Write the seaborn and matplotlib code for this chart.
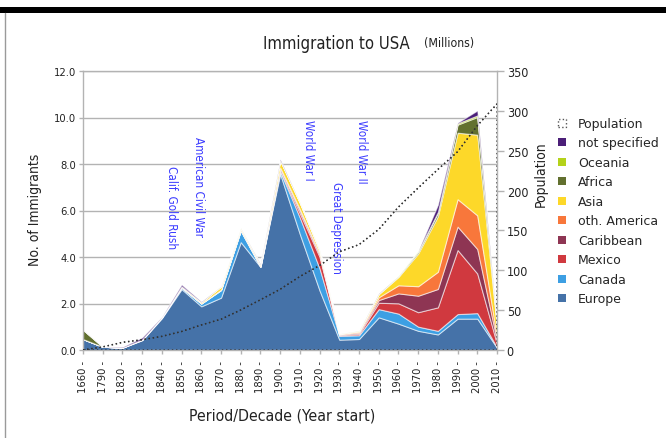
import matplotlib
matplotlib.use('Agg')
import seaborn as sns
from matplotlib import pyplot as plt
from matplotlib.patches import Patch, Rectangle
from matplotlib.lines import Line2D

# period / decade start
decades = ['1660', '1790', '1820', '1830', '1840', '1850', '1860', '1870', '1880', '1890',
           '1900', '1910', '1920', '1930', '1940', '1950', '1960', '1970', '1980', '1990',
           '2000', '2010']

# immigrants, millions
europe = [0.47, 0.14, 0.099, 0.423, 1.369, 2.620, 1.878, 2.252, 4.639, 3.576, 7.573,
          4.985, 2.560, 0.444, 0.473, 1.405, 1.133, 0.826, 0.669, 1.349, 1.350, 0.095]
canada = [0.0, 0.0, 0.002, 0.012, 0.034, 0.064, 0.118, 0.324, 0.493, 0.003, 0.123,
          0.709, 0.949, 0.163, 0.161, 0.353, 0.433, 0.179, 0.156, 0.195, 0.236, 0.019]
mexico = [0.0, 0.0, 0.004, 0.007, 0.003, 0.003, 0.002, 0.005, 0.002, 0.0, 0.031,
          0.185, 0.499, 0.033, 0.056, 0.274, 0.442, 0.621, 1.010, 2.757, 1.704, 0.139]
caribbean = [0.0, 0.0, 0.003, 0.012, 0.012, 0.012, 0.009, 0.014, 0.027, 0.031, 0.101,
             0.121, 0.083, 0.018, 0.046, 0.116, 0.427, 0.709, 0.790, 1.005, 1.053, 0.139]
oth_america = [0.0, 0.0, 0.0005, 0.001, 0.0014, 0.004, 0.0016, 0.0013, 0.0022, 0.002, 0.023,
               0.056, 0.060, 0.017, 0.040, 0.119, 0.349, 0.408, 0.739, 1.181, 1.448, 0.131]
asia = [0.0, 0.0, 0.0, 0.0001, 0.0001, 0.036, 0.054, 0.134, 0.071, 0.061, 0.300,
        0.270, 0.127, 0.019, 0.035, 0.136, 0.359, 1.407, 2.391, 2.860, 3.471, 0.410]
africa = [0.40, 0.0, 0.0, 0.0, 0.0, 0.0, 0.0, 0.0, 0.0, 0.0, 0.006,
          0.009, 0.006, 0.002, 0.007, 0.013, 0.024, 0.071, 0.142, 0.346, 0.760, 0.098]
oceania = [0.0, 0.0, 0.0, 0.0, 0.0, 0.0, 0.0, 0.011, 0.013, 0.004, 0.012,
           0.012, 0.010, 0.003, 0.014, 0.011, 0.024, 0.040, 0.041, 0.057, 0.066, 0.006]
not_specified = [0.0, 0.0, 0.020, 0.084, 0.007, 0.074, 0.018, 0.001, 0.001, 0.014, 0.033,
                 0.0005, 0.001, 0.0, 0.0001, 0.012, 0.0001, 0.0003, 0.305, 0.026, 0.212, 0.004]

# US population, millions (right axis)
population = [0.1, 3.9, 9.6, 12.9, 17.1, 23.2, 31.4, 38.6, 50.2, 63.0, 76.2, 92.2, 106.0,
              123.2, 132.2, 151.3, 179.3, 203.3, 226.5, 248.7, 281.4, 308.7]

series = [europe, canada, mexico, caribbean, oth_america, asia, africa, oceania, not_specified]
names = ['Europe', 'Canada', 'Mexico', 'Caribbean', 'oth. America', 'Asia', 'Africa',
         'Oceania', 'not specified']
colors = ['#4572a8', '#3d9fe3', '#d0393f', '#8e3553', '#f8773b', '#fdd829', '#62702f',
          '#b4d21a', '#4b1f78']

events = ['Calif. Gold Rush', 'American Civil War', 'World War I', 'Great Depression', 'World War II']
event_x = [4.5, 5.85, 11.43, 12.87, 14.14]
event_y = [7.96, 9.19, 9.94, 7.28, 9.94]

sns.set_theme(style='white')
plt.rcParams['font.family'] = ['DejaVu Sans']
plt.rcParams['font.stretch'] = 'condensed'

fig = plt.figure(figsize=(6.66, 4.39), dpi=100)
ax = fig.add_axes([83 / 666, 1 - 351 / 439, 414 / 666, 279 / 439])

x = list(range(len(decades)))
ax.stackplot(x, *series, colors=colors, edgecolor=(1, 1, 1, 0.55), linewidth=0.8, zorder=2)

ax.set_xlim(0, len(decades) - 1)
ax.set_ylim(0, 12)
ax.set_yticks(range(0, 13, 2))
ax.set_yticklabels([f'{v:.1f}' for v in range(0, 13, 2)], fontsize=8)
ax.set_xticks(x)
ax.set_xticklabels([f'{d} -' for d in decades], rotation=90, fontsize=8)
ax.grid(axis='y', color='#b3b3b3', linewidth=1, zorder=0)
ax.set_axisbelow(True)
for s in ax.spines.values():
    s.set_color('#b3b3b3')
    s.set_linewidth(1)
ax.tick_params(axis='both', which='both', length=3, width=1, color='#b3b3b3', pad=2,
               left=True, bottom=True, labelcolor='#222222')
ax.tick_params(axis='x', pad=4)

for label, ex, ey in zip(events, event_x, event_y):
    ax.text(ex, ey, label, rotation=270, ha='center', va='top', fontsize=8.4,
            color='#3b3bff', zorder=5)

ax2 = ax.twinx()
ax2.set_ylim(0, 350)
ax2.set_yticks(range(0, 351, 50))
ax2.set_yticklabels([str(v) for v in range(0, 351, 50)], fontsize=9)
ax2.tick_params(axis='y', length=5, width=1, color='#b3b3b3', pad=2, right=True, labelcolor='#222222')
for s in ax2.spines.values():
    s.set_visible(False)
dots = (0, (1, 2))
sns.lineplot(x=x, y=population, ax=ax2, color='#333333', linestyle=dots, linewidth=1)
ax2.fill_between(x, population, facecolor='none', edgecolor='#333333', linestyle=dots, linewidth=1)
ax2.set_ylabel('')

fig.text(336 / 666, 1 - 44 / 439, 'Immigration to USA', ha='center', va='center', fontsize=12,
         color='#222222')
fig.text(424 / 666, 1 - 43 / 439, '(Millions)', ha='left', va='center', fontsize=8.8, color='#222222')
fig.text(35 / 666, 1 - 210 / 439, 'No. of Immigrants', rotation=90, ha='center', va='center',
         fontsize=10, color='#222222')
fig.text(541 / 666, 1 - 174 / 439, 'Population', rotation=90, ha='center', va='center',
         fontsize=10, color='#222222')
fig.text(282 / 666, 1 - 416 / 439, 'Period/Decade (Year start)', ha='center', va='center',
         fontsize=11.3, color='#222222')

handles = [Patch(facecolor='none', edgecolor='#555555', linestyle=':', linewidth=1)]
handles += [Patch(facecolor=c, edgecolor='none') for c in colors[::-1]]
labels = ['Population'] + names[::-1]
fig.legend(handles, labels, loc='upper left', bbox_to_anchor=(558 / 666, 1 - 118 / 439),
           frameon=False, prop={'size': 9, 'stretch': 'normal'}, handlelength=0.6,
           handleheight=0.6, handletextpad=1.0, labelspacing=0.52, borderaxespad=0, borderpad=0)

# screenshot frame: black bar on top, grey rule on the left
fig.patches.append(Rectangle((0, 1 - 14 / 439), 1, 6 / 439, transform=fig.transFigure,
                             facecolor='black', edgecolor='none'))
fig.lines.append(Line2D([5 / 666, 5 / 666], [0, 1 - 14 / 439], transform=fig.transFigure,
                        color='#9a9a9a', linewidth=1))

fig.savefig('out.png', dpi=100)
plt.close(fig)
